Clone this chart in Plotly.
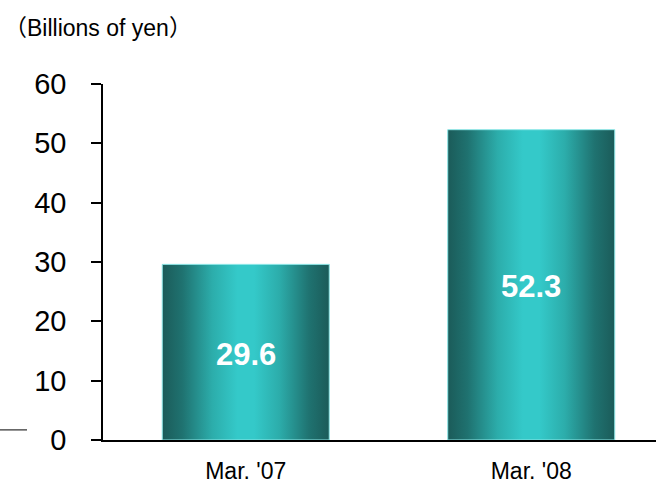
import plotly.graph_objects as go

categories = ["Mar. '07", "Mar. '08"]
values = [29.6, 52.3]
y_ticks = [0, 10, 20, 30, 40, 50, 60]

bar_width = 0.585
half = bar_width / 2

grad = [[0.0, "#1b5b59"], [0.12, "#1f7270"], [0.3, "#2cadab"], [0.45, "#34c9c9"],
        [0.55, "#34c9c9"], [0.7, "#2cadab"], [0.88, "#1f7270"], [1.0, "#1b5b59"]]

fig = go.Figure()
for i, v in enumerate(values):
    fig.add_trace(go.Scatter(
        x=[i - half, i + half, i + half, i - half, i - half],
        y=[0, 0, v, v, 0],
        mode="lines", fill="toself",
        line=dict(color="#8fe8e8", width=1),
        fillgradient=dict(type="horizontal", colorscale=grad),
        hoverinfo="skip", showlegend=False))

plot_left = 103
plot_w = 656 - plot_left

annotations = [dict(x=i, y=v / 2, xref="x", yref="y", text=f"{v:.1f}", showarrow=False,
                    yshift=-2,
                    font=dict(family="Liberation Sans, Arial", size=31, color="white", weight="bold"))
               for i, v in enumerate(values)]

paren = '<span style="font-family:Noto Sans CJK JP">{}</span>'
annotations.append(dict(text=paren.format("（") + "Billions of yen" + paren.format("）"),
                        xref="paper", yref="paper",
                        x=(2 - plot_left) / plot_w, y=1 + (84 - 26) / 356, xanchor="left",
                        yanchor="middle", showarrow=False,
                        font=dict(size=23, color="black", family="Liberation Sans, Arial")))

fig.update_layout(
    width=656, height=484,
    margin=dict(l=plot_left, r=0, t=84, b=44, autoexpand=False),
    plot_bgcolor="white", paper_bgcolor="white",
    font=dict(family="Liberation Sans, Arial", color="black"),
    xaxis=dict(range=[-0.5, 1.437], tickvals=list(range(len(categories))), ticktext=categories,
               showgrid=False, zeroline=False, showline=True, linecolor="black", linewidth=1.5,
               ticks="", tickfont=dict(size=23), ticklabelstandoff=10, fixedrange=True,
               automargin=False),
    yaxis=dict(range=[0, 60], tickvals=y_ticks, showgrid=False, zeroline=False,
               showline=True, linecolor="black", linewidth=1.5,
               ticks="outside", ticklen=10, tickwidth=1.5, tickcolor="black",
               tickfont=dict(size=29), ticklabelstandoff=19, fixedrange=True,
               automargin=False),
    shapes=[dict(type="line", xref="paper", yref="y",
                 x0=-plot_left / plot_w, x1=(27 - plot_left) / plot_w, y0=1.7, y1=1.7,
                 line=dict(color="black", width=1))],
    annotations=annotations,
)

fig.write_html("out.html", config={"displayModeBar": False},
               post_script="document.body.style.margin='0';")
